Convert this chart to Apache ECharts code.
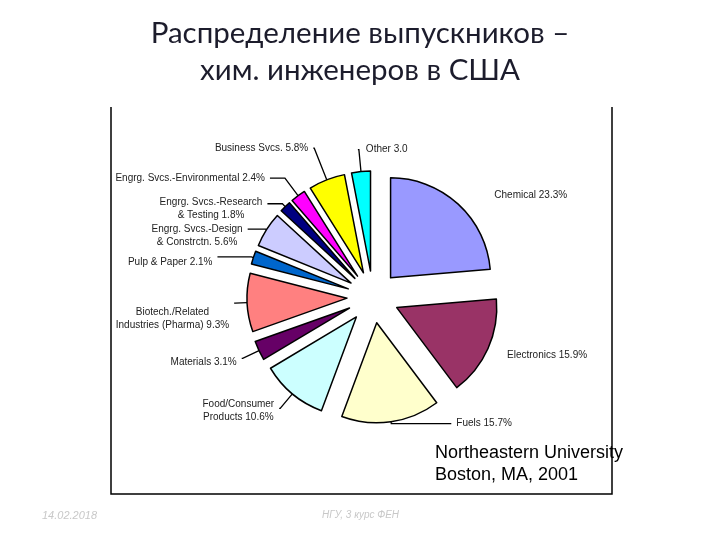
<!DOCTYPE html>
<html><head><meta charset="utf-8">
<script src="https://cdn.jsdelivr.net/npm/echarts@6/dist/echarts.min.js"></script>
<style>html,body{margin:0;padding:0;background:#fff}#c{width:720px;height:540px}</style>
</head><body><div id="c"></div>
<script>
const categories = ['Chemical','Electronics','Fuels','Food/Consumer\nProducts','Materials','Biotech./Related\nIndustries (Pharma)','Pulp & Paper','Engrg. Svcs.-Design\n& Constrctn.','Engrg. Svcs.-Research\n& Testing','Engrg. Svcs.-Environmental','Business Svcs.','Other'];
const values = [23.3,15.9,15.7,10.6,3.1,9.3,2.1,5.6,1.8,2.4,5.8,3.0];
const valueLabels = ['23.3%','15.9%','15.7%','10.6%','3.1%','9.3%','2.1%','5.6%','1.8%','2.4%','5.8%','3.0'];
const colors = ['#9999ff','#993366','#ffffcc','#ccffff','#660066','#ff8080','#0066cc','#ccccff','#000080','#ff00ff','#ffff00','#00ffff'];
// leader line layout per slice: [length, length2, visible]
const leader = [[12,23,false],[11,4,false],[2,60,true],[19,1,true],[18,1,true],[12,1,true],[2,34,true],[1,18,true],[4,15,true],[22,15,true],[34,1,true],[22,1,true]];
// label text tweaks (layout only): [align, dx, dy]; dx null = centre the block on the line end
const labelTweak = {1:[null,0,2],3:['center',null,2],4:[null,0,4],5:['center',null,16],6:[null,0,5],7:['center',null,7],8:['center',null,5],11:['left',13,0]};

const chart = echarts.init(document.getElementById('c'));
const data = values.map((v,i)=>({
  name: categories[i], value: v, selected: true,
  itemStyle: {color: colors[i]},
  labelLine: {show: leader[i][2], length: leader[i][0], length2: leader[i][1]}
}));
chart.setOption({
  animation:false,
  title:{
    text:'Распределение выпускников –\nхим. инженеров в США',
    left:'center', top:10,
    textStyle:{fontFamily:'Lato',fontWeight:'normal',fontSize:29.5,color:'#1c1c2c',lineHeight:37}
  },
  graphic:[
    {type:'polyline',shape:{points:[[111,107],[111,494],[612,494],[612,107]]},style:{stroke:'#000',lineWidth:1.5,fill:null}},
    {type:'text',left:435,top:442,style:{text:'Northeastern University\nBoston, MA, 2001',font:'18px "Liberation Sans"',fill:'#000',lineHeight:22}},
    {type:'text',left:42,top:510,style:{text:'14.02.2018',font:'italic 11px "Liberation Sans"',fill:'#c8c8c8'}},
    {type:'text',left:322,top:510,style:{text:'НГУ, 3 курс ФЕН',font:'italic 10px "Liberation Sans"',fill:'#c8c8c8'}}
  ],
  series:[{
    type:'pie',
    center:[373,297], radius:[0,100],
    startAngle:90, clockwise:true,
    avoidLabelOverlap:false,
    selectedMode:'multiple', selectedOffset:26,
    emphasis:{disabled:true},
    itemStyle:{borderColor:'#000',borderWidth:1.5},
    label:{
      show:true, position:'outside',
      formatter: p => p.name + ' ' + valueLabels[p.dataIndex],
      fontFamily:'Liberation Sans', fontSize:10, color:'#222', lineHeight:13
    },
    labelLine:{lineStyle:{color:'#000',width:1.3}},
    labelLayout: p => {
      const t = labelTweak[p.dataIndex];
      if (!t) return {};
      const o = {dx: t[1] === null ? -p.labelRect.width/2 : t[1], dy: t[2]};
      if (t[0]) o.align = t[0];
      return o;
    },
    data: data
  }]
});
</script></body></html>
